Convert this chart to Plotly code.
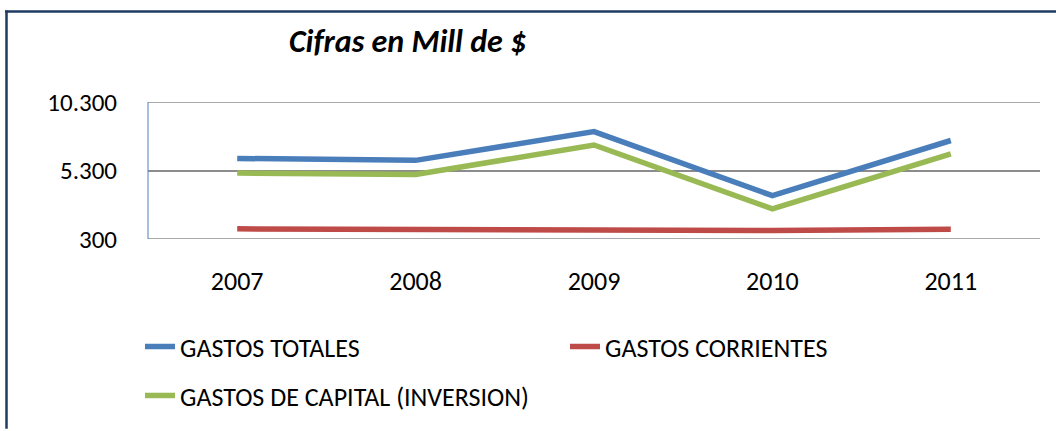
import plotly.graph_objects as go

# Annual spending, millions of $
years = ["2007", "2008", "2009", "2010", "2011"]
gastos_totales = [6180, 6040, 8140, 3460, 7490]
gastos_corrientes = [1040, 1016, 1016, 916, 1016]
gastos_capital = [5110, 5010, 7160, 2500, 6510]
y_ticks = [300, 5300, 10300]

W, H = 1056, 431
L, R, T, B = 148, 16, 102, 189
PW, PH = W - L - R, H - T - B

FONT = "Carlito, Calibri, Lato, 'Open Sans', sans-serif"
GRID = "#8c8c8c"


def px_x(p):
    return (p - L) / PW


def px_y(p):
    return (H - B - p) / PH


fig = go.Figure()
series = [
    ("GASTOS TOTALES", gastos_totales, "#4a7ebb", "legend"),
    ("GASTOS CORRIENTES", gastos_corrientes, "#be4b48", "legend"),
    ("GASTOS DE CAPITAL (INVERSION)", gastos_capital, "#98b954", "legend2"),
]
for name, vals, color, lg in series:
    fig.add_trace(go.Scatter(
        x=years, y=vals, name=name, mode="lines",
        line=dict(color=color, width=5.5),
        legend=lg,
    ))

# grid lines at the two ends of the value range (plotly skips edge grid lines)
edge_grid = [
    dict(type="line", xref="x domain", yref="y", x0=0, x1=1, y0=v, y1=v,
         layer="below", line=dict(color=GRID, width=1.5))
    for v in (y_ticks[0], y_ticks[-1])
]

fig.update_layout(
    width=W, height=H,
    margin=dict(l=L, r=R, t=T, b=B),
    paper_bgcolor="white", plot_bgcolor="white",
    separators=",.",
    font=dict(family=FONT, size=25, color="black"),
    showlegend=True,
    legend=dict(
        orientation="h", x=px_x(140), y=px_y(352), xanchor="left", yanchor="middle",
        xref="paper", yref="paper",
        entrywidth=380, entrywidthmode="pixels",
        font=dict(family=FONT, size=26, color="black"),
        bgcolor="rgba(0,0,0,0)",
    ),
    legend2=dict(
        orientation="h", x=px_x(140), y=px_y(402), xanchor="left", yanchor="middle",
        xref="paper", yref="paper",
        font=dict(family=FONT, size=26, color="black"),
        bgcolor="rgba(0,0,0,0)",
    ),
    xaxis=dict(
        type="category", range=[-0.5, 4.5],
        showgrid=False, zeroline=False, showline=False,
        ticks="", ticklabelstandoff=24,
        tickfont=dict(family=FONT, size=26, color="black"),
    ),
    yaxis=dict(
        range=[y_ticks[0], y_ticks[-1]], tickvals=y_ticks, tickformat=",d",
        showgrid=True, gridcolor=GRID, gridwidth=1.5,
        zeroline=False, showline=False,
        ticks="", ticklabelstandoff=30,
        tickfont=dict(family=FONT, size=25, color="black"),
    ),
    annotations=[dict(
        text="<b><i>Cifras en Mill de $</i></b>",
        x=px_x(407), y=px_y(40), xref="paper", yref="paper",
        xanchor="center", yanchor="middle", showarrow=False,
        font=dict(family=FONT, size=32, color="black"),
    )],
    shapes=edge_grid + [
        # vertical value axis line
        dict(type="line", xref="x domain", yref="y",
             x0=0, x1=0, y0=y_ticks[0], y1=y_ticks[-1],
             line=dict(color="#4f81bd", width=1)),
        # outer frame
        dict(type="line", xref="paper", yref="paper",
             x0=px_x(5), x1=px_x(W + 5), y0=px_y(9.5), y1=px_y(9.5),
             line=dict(color="#1f3b63", width=2.5)),
        dict(type="line", xref="paper", yref="paper",
             x0=px_x(6.5), x1=px_x(6.5), y0=px_y(8.5), y1=px_y(H + 5),
             line=dict(color="#1f3b63", width=2.5)),
    ],
)

fig.write_html("out.html")
